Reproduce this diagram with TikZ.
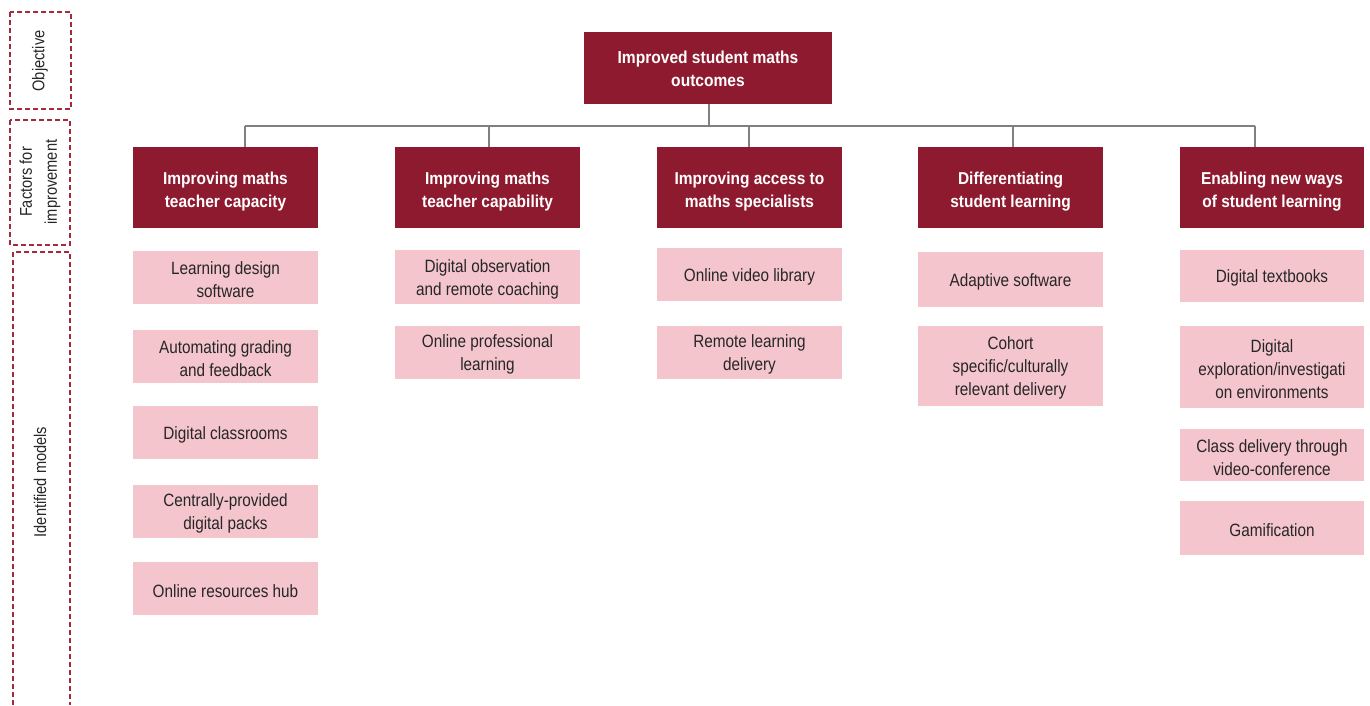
\documentclass[tikz,border=0pt]{standalone}
\usepackage{fontspec}
\setmainfont{Liberation Sans}
\newfontfamily\narrowfont[FakeStretch=0.86]{Liberation Sans}
\newfontfamily\narrowbold[FakeStretch=0.9]{Liberation Sans Bold}
\definecolor{maroon}{HTML}{8E1A2F}
\definecolor{pinkbox}{HTML}{F4C5CD}
\definecolor{connline}{HTML}{808080}
\definecolor{dashred}{HTML}{A52A40}
\tikzset{
  % box shapes; the caption is set as a centred label, nudged down a little
  toptext/.style={align=center, inner sep=0pt, text=white, yshift=-1pt,
    font=\narrowbold\fontsize{17.3}{23}\selectfont},
  hdrtext/.style={align=center, inner sep=0pt, text=white, yshift=-4pt,
    font=\narrowbold\fontsize{17.2}{22.5}\selectfont},
  modeltext/.style={align=center, inner sep=0pt, text=black!85, yshift=-2.3pt,
    font=\narrowfont\fontsize{17.8}{23}\selectfont},
  topbox/.style={fill=maroon, inner sep=0pt, label={[toptext]center:{#1}}},
  hdrbox/.style={fill=maroon, inner sep=0pt,
    minimum width=185pt, minimum height=81pt, label={[hdrtext]center:{#1}}},
  modelbox/.style={fill=pinkbox, inner sep=0pt,
    minimum width=185pt, label={[modeltext]center:{#1}}},
  conn/.style={draw=connline, line width=1.6pt},
  rowframe/.style={draw=dashred, line width=1.6pt, dash pattern=on 5pt off 3pt},
  rowlabel/.style={rotate=90, align=center, text=black!85,
    font=\narrowfont\fontsize{17}{25}\selectfont},
}
\begin{document}
\begin{tikzpicture}[x=1pt,y=-1pt]
\useasboundingbox (0,0) rectangle (1370,705);

% row frames on the left
\draw[rowframe] (10,12) rectangle (71,109);
\draw[rowframe] (10,120) rectangle (70,245);
\draw[rowframe] (13,705) -- (13,252) -- (70,252) -- (70,705);
\node[rowlabel] (lobj) at (40,61) {Objective};
\node[rowlabel] (lfac) at (40,182) {Factors for\\improvement};
\node[rowlabel] (lmod) at (40,482) {Identified models};

% objective
\node[topbox={Improved student maths\\outcomes}, minimum width=248pt, minimum height=72pt]
  (top) at (708,68) {};

% factors
\node[hdrbox={Improving maths\\teacher capacity}] (h1) at (225.5,187.5) {};
\node[hdrbox={Improving maths\\teacher capability}] (h2) at (487.5,187.5) {};
\node[hdrbox={Improving access to\\maths specialists}] (h3) at (749.5,187.5) {};
\node[hdrbox={Differentiating\\student learning}] (h4) at (1010.5,187.5) {};
\node[hdrbox={Enabling new ways\\of student learning}, minimum width=184pt] (h5) at (1272,187.5) {};

% tree connectors
\coordinate (hub) at (709,126);
\coordinate (d1) at (245,126);
\coordinate (d2) at (489,126);
\coordinate (d3) at (749,126);
\coordinate (d4) at (1013,126);
\coordinate (d5) at (1255,126);
\draw[conn] (top.south -| hub) -- (hub);
\draw[conn] (d1) -- (d5);
\draw[conn] (d1) -- (d1 |- h1.north);
\draw[conn] (d2) -- (d2 |- h2.north);
\draw[conn] (d3) -- (d3 |- h3.north);
\draw[conn] (d4) -- (d4 |- h4.north);
\draw[conn] (d5) -- (d5 |- h5.north);

% identified models
\node[modelbox={Learning design\\software}, minimum height=53pt] (m11) at (225.5,277.5) {};
\node[modelbox={Automating grading\\and feedback}, minimum height=53pt] (m12) at (225.5,356.5) {};
\node[modelbox={Digital classrooms}, minimum height=53pt] (m13) at (225.5,432.5) {};
\node[modelbox={Centrally-provided\\digital packs}, minimum height=53pt] (m14) at (225.5,511.5) {};
\node[modelbox={Online resources hub}, minimum height=53pt] (m15) at (225.5,588.5) {};

\node[modelbox={Digital observation\\and remote coaching}, minimum height=54pt] (m21) at (487.5,277) {};
\node[modelbox={Online professional\\learning}, minimum height=53pt] (m22) at (487.5,352.5) {};

\node[modelbox={Online video library}, minimum height=53pt] (m31) at (749.5,274.5) {};
\node[modelbox={Remote learning\\delivery}, minimum height=53pt] (m32) at (749.5,352.5) {};

\node[modelbox={Adaptive software}, minimum height=55pt] (m41) at (1010.5,279.5) {};
\node[modelbox={Cohort\\specific/culturally\\relevant delivery}, minimum height=80pt] (m42) at (1010.5,366) {};

\node[modelbox={Digital textbooks}, minimum width=184pt, minimum height=52pt] (m51) at (1272,276) {};
\node[modelbox={Digital\\exploration/investigati\\on environments}, minimum width=184pt, minimum height=82pt] (m52) at (1272,367) {};
\node[modelbox={Class delivery through\\video-conference}, minimum width=184pt, minimum height=52pt] (m53) at (1272,455) {};
\node[modelbox={Gamification}, minimum width=184pt, minimum height=54pt] (m54) at (1272,528) {};
\end{tikzpicture}
\end{document}
